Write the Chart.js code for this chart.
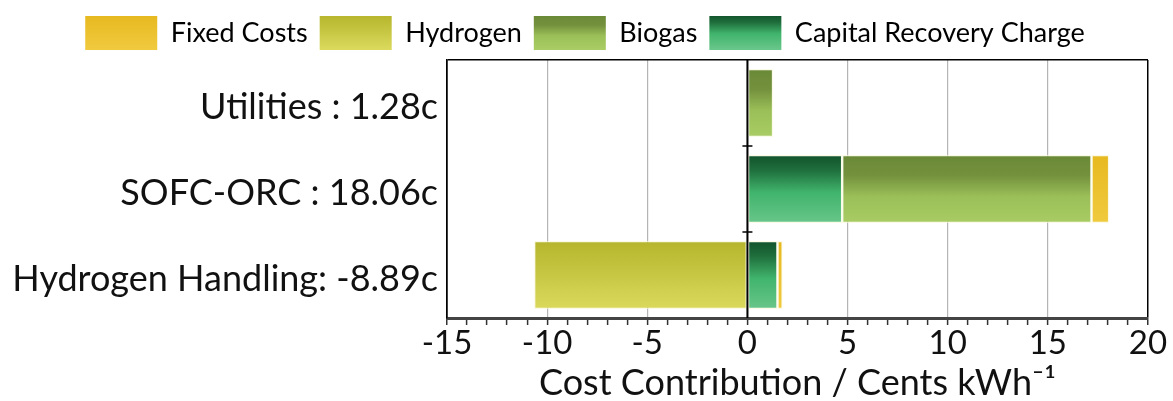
<!DOCTYPE html>
<html>
<head>
<meta charset="utf-8">
<script src="https://cdn.jsdelivr.net/npm/chart.js@4.4.0/dist/chart.umd.min.js"></script>
<style>
  html, body { margin: 0; padding: 0; background: #fff; }
  #wrap { width: 1173px; height: 401px; }
</style>
</head>
<body>
<div id="wrap"><canvas id="costChart"></canvas></div>
<script>
// values, cents per kWh
const categories = ["Utilities : 1.28c", "SOFC-ORC : 18.06c", "Hydrogen Handling: -8.89c"];
const seriesNames = ["Fixed Costs", "Hydrogen", "Biogas", "Capital Recovery Charge"];
const fixedCosts = [0, 0.88, 0.26];
const hydrogen = [0, 0, -10.65];
const biogas = [1.28, 12.45, 0];
const capitalRecovery = [0, 4.73, 1.5];
const xMin = -15;
const xMax = 20;

const FONT = "Lato, 'Open Sans', sans-serif";

// vertical gradient stops, top -> bottom
const fixedStops = [[0, "#e7b920"], [1, "#f0ca3e"]];
const hydrogenStops = [[0, "#b6b52c"], [1, "#dad95c"]];
const biogasStops = [[0, "#6a8937"], [0.3, "#74913d"], [0.62, "#9cc059"], [1, "#a9cc64"]];
const capitalStops = [[0, "#11522b"], [0.22, "#1f6e3c"], [0.55, "#40b46c"], [1, "#68c68a"]];

function makeGradient(ctx, stops, top, bottom) {
  const g = ctx.createLinearGradient(0, top, 0, bottom);
  stops.forEach(s => g.addColorStop(s[0], s[1]));
  return g;
}

function barFill(stops) {
  return function (c) {
    const chart = c.chart;
    const yScale = chart.scales.y;
    if (c.type !== "data" || !yScale || !chart.chartArea) return stops[stops.length - 1][1];
    const center = yScale.getPixelForValue(c.dataIndex);
    const half = (yScale.height / categories.length) * 0.79 / 2;
    return makeGradient(chart.ctx, stops, center - half, center + half);
  };
}

const allStops = [fixedStops, hydrogenStops, biogasStops, capitalStops];

// the legend in the original sits a little right of centre
const legendShift = {
  id: "legendShift",
  afterLayout(chart) {
    if (chart.legend) {
      chart.legend.left += 11;
      chart.legend.right += 11;
    }
  }
};

// little marks on the zero line between categories, and the zero line itself over the bars
const zeroLine = {
  id: "zeroLine",
  afterDatasetsDraw(chart) {
    const x = chart.scales.x;
    const y = chart.scales.y;
    const ctx = chart.ctx;
    const x0 = x.getPixelForValue(0);
    ctx.save();
    ctx.strokeStyle = "#000";
    ctx.lineWidth = 2;
    ctx.beginPath();
    ctx.moveTo(x0, y.top);
    ctx.lineTo(x0, y.bottom);
    ctx.stroke();
    ctx.lineWidth = 1.5;
    for (let i = 1; i < categories.length; i++) {
      const yy = (y.getPixelForValue(i - 1) + y.getPixelForValue(i)) / 2;
      ctx.beginPath();
      ctx.moveTo(x0 - 5, yy);
      ctx.lineTo(x0 + 5, yy);
      ctx.stroke();
    }
    ctx.restore();
  }
};

const barBorder = "rgba(250, 248, 220, 0.7)";

new Chart(document.getElementById("costChart"), {
  type: "bar",
  data: {
    labels: categories,
    datasets: [
      { label: seriesNames[0], data: fixedCosts, order: 3, backgroundColor: barFill(fixedStops) },
      { label: seriesNames[1], data: hydrogen, order: 4, backgroundColor: barFill(hydrogenStops) },
      { label: seriesNames[2], data: biogas, order: 2, backgroundColor: barFill(biogasStops) },
      { label: seriesNames[3], data: capitalRecovery, order: 1, backgroundColor: barFill(capitalStops) }
    ].map(d => Object.assign(d, {
      borderColor: barBorder,
      borderWidth: 1.2,
      borderSkipped: false,
      barPercentage: 0.79,
      categoryPercentage: 1
    }))
  },
  options: {
    indexAxis: "y",
    responsive: true,
    maintainAspectRatio: false,
    animation: false,
    layout: { padding: { top: 4, right: 25, bottom: 0, left: 0 } },
    plugins: {
      tooltip: { enabled: false },
      legend: {
        position: "top",
        labels: {
          boxWidth: 72,
          boxHeight: 34,
          padding: 12,
          color: "#111",
          font: { family: FONT, size: 27 },
          generateLabels(chart) {
            return chart.data.datasets.map((d, i) => ({
              text: d.label,
              fillStyle: makeGradient(chart.ctx, allStops[i], 15, 49),
              strokeStyle: "rgba(0,0,0,0)",
              lineWidth: 0,
              hidden: false,
              datasetIndex: i
            }));
          }
        }
      }
    },
    scales: {
      x: {
        type: "linear",
        stacked: true,
        min: xMin,
        max: xMax,
        afterFit(scale) { scale.height = 83; },
        ticks: {
          stepSize: 1,
          autoSkip: false,
          maxRotation: 0,
          padding: 0,
          color: "#111",
          font: { family: FONT, size: 33, lineHeight: 1.1 },
          callback: v => (v % 5 === 0 ? v : "")
        },
        grid: {
          color: c => {
            const v = c.tick ? c.tick.value : null;
            if (v === xMin || v === xMax) return "#000";
            return v % 5 === 0 ? "#b5b5b5" : "rgba(0,0,0,0)";
          },
          lineWidth: c => (c.tick && (c.tick.value === xMin || c.tick.value === xMax) ? 1.5 : 1.2),
          tickColor: "#333",
          tickLength: 7,
          tickWidth: 1.5
        },
        border: { display: true, color: "#444", width: 3 },
        title: {
          display: true,
          text: "Cost Contribution / Cents kWh\u207B\u00B9",
          color: "#111",
          font: { family: FONT, size: 36, lineHeight: 1 },
          padding: { top: 0, bottom: 0 }
        }
      },
      y: {
        stacked: true,
        afterFit(scale) { scale.width = 447; },
        ticks: {
          color: "#111",
          padding: 9,
          labelOffset: 4,
          font: { family: FONT, size: 36 }
        },
        grid: {
          drawTicks: false,
          color: c => (c.index === 0 ? "#000" : "rgba(0,0,0,0)"),
          lineWidth: 1.5
        },
        border: { display: true, color: "#000", width: 1.5 }
      }
    }
  },
  plugins: [legendShift, zeroLine]
});
</script>
</body>
</html>
